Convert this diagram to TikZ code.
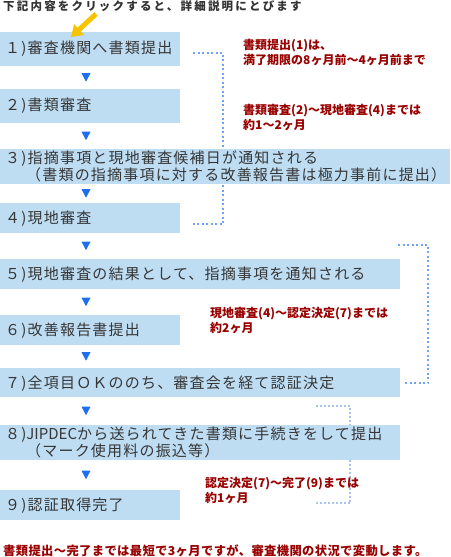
\documentclass[tikz,border=0pt]{standalone}
\usepackage{fontspec}
\usetikzlibrary{calc,arrows.meta}
\newfontfamily\jpbox[LetterSpace=8]{Noto Sans CJK JP}
\newfontfamily\jptitle[LetterSpace=19]{Noto Sans CJK JP}
\newfontfamily\jpnote{Noto Sans CJK JP}
\newfontfamily\jpfoot[LetterSpace=3]{Noto Sans CJK JP}
\definecolor{boxfill}{HTML}{BEDDF3}
\definecolor{boxtxt}{HTML}{363636}
\definecolor{tricol}{HTML}{1E6EF0}
\definecolor{notered}{HTML}{990000}
\definecolor{dotblue}{HTML}{6FA3F5}
\definecolor{dotpale}{HTML}{A9C3EF}
\definecolor{titlecol}{HTML}{333333}
\definecolor{arrowyel}{HTML}{F6C300}
\tikzset{
  box/.style={fill=boxfill, draw=none, rectangle, inner sep=0pt, anchor=north west, minimum height=#1},
  box/.default=30pt,
  boxtext/.style={anchor=west, inner sep=0pt, text=boxtxt, align=left,
    font=\jpbox\fontsize{15}{15}\selectfont},
  note/.style={anchor=west, inner sep=0pt, text=notered, align=left,
    font=\jpnote\bfseries\fontsize{12}{15}\selectfont},
  bracket/.style={draw=dotblue, line width=2pt, dash pattern=on 2pt off 2.5pt},
  bracketpale/.style={draw=dotpale, line width=2pt, dash pattern=on 2pt off 2pt},
  downtri/.pic={\fill[tricol] (-4.5,-4.5) -- (4.5,-4.5) -- (0,4) -- cycle;}
}
\begin{document}
\begin{tikzpicture}[x=1pt,y=-1pt]
\useasboundingbox (0,0) rectangle (450,557);
% brackets (behind boxes)
\coordinate (k1a) at (193,53);
\coordinate (k1b) at (223,224);
\coordinate (k1c) at (193,224);
\draw[bracket] (k1a) -| (k1b) -- (k1c);
\coordinate (k2a) at (398,245);
\coordinate (k2b) at (428,383);
\coordinate (k2c) at (403,383);
\draw[bracket] (k2a) -| (k2b) -- (k2c);
\coordinate (k3a) at (316,405.5);
\coordinate (k3b) at (350,503);
\coordinate (k3c) at (316,503);
\draw[bracketpale] (k3a) -| (k3b) -- (k3c);
% title
\node[anchor=west, inner sep=0pt, text=titlecol, font=\jptitle\bfseries\fontsize{11.5}{12}\selectfont] (title) at (3,6.5) {下記内容をクリックすると、詳細説明にとびます};
% boxes
\node[box=34pt, minimum width=180pt] (b1) at (0,32) {};
\node[box=34pt, minimum width=180pt] (b2) at (0,89) {};
\node[box=35pt, minimum width=450pt] (b3) at (0,149) {};
\node[box=30pt, minimum width=180pt] (b4) at (0,203) {};
\node[box=30pt, minimum width=400pt] (b5) at (0,259) {};
\node[box=30pt, minimum width=180pt] (b6) at (0,315) {};
\node[box=29pt, minimum width=400pt] (b7) at (0,368) {};
\node[box=35pt, minimum width=400pt] (b8) at (0,425) {};
\node[box=30pt, minimum width=180pt] (b9) at (0,490) {};
% box texts
\node[boxtext] (t1) at ([xshift=5pt,yshift=1pt]b1.west) {１)審査機関へ書類提出};
\node[boxtext] (t2) at ([xshift=5pt,yshift=1pt]b2.west) {２)書類審査};
\node[boxtext] (t3) at ([xshift=5pt,yshift=0pt]b3.west) {３)指摘事項と現地審査候補日が通知される\\\hspace{21pt}（書類の指摘事項に対する改善報告書は極力事前に提出）};
\node[boxtext] (t4) at ([xshift=5pt]b4.west) {４)現地審査};
\node[boxtext] (t5) at ([xshift=5pt]b5.west) {５)現地審査の結果として、指摘事項を通知される};
\node[boxtext] (t6) at ([xshift=5pt]b6.west) {６)改善報告書提出};
\node[boxtext] (t7) at ([xshift=5pt,yshift=-1pt]b7.west) {７)全項目ＯＫののち、審査会を経て認証決定};
\node[boxtext] (t8) at ([xshift=5pt]b8.west) {８){\jpnote JIPDEC}から送られてきた書類に手続きをして提出\\\hspace{21pt}（マーク使用料の振込等）};
\node[boxtext] (t9) at ([xshift=5pt]b9.west) {９)認証取得完了};
% down triangles between boxes
\foreach \u/\v in {b1/b2,b2/b3,b3/b4,b4/b5,b5/b6,b6/b7,b7/b8,b8/b9}
  \pic at ($(\u.south west)!0.5!(\v.north west)+(86,0)$) {downtri};
% yellow pointer arrow
\coordinate (ya) at (96,14);
\draw[arrowyel, line width=5pt, -{Triangle[width=14pt,length=11pt]}] (ya) -- ($(b1.north west)+(71,5)$);
% notes
\node[note] (n1) at (243,52) {書類提出(1)は、\\満了期限の8ヶ月前〜4ヶ月前まで};
\node[note] (n2) at (243,117.5) {書類審査(2)〜現地審査(4)までは\\約1〜2ヶ月};
\node[note] (n3) at (210,321) {現地審査(4)〜認定決定(7)までは\\約2ヶ月};
\node[note] (n4) at (205,490.5) {認定決定(7)〜完了(9)までは\\約1ヶ月};
\node[anchor=west, inner sep=0pt, text=notered, font=\jpfoot\bfseries\fontsize{12.3}{12}\selectfont] (foot) at (3,551) {書類提出〜完了までは最短で3ヶ月ですが、審査機関の状況で変動します。};
\end{tikzpicture}
\end{document}
